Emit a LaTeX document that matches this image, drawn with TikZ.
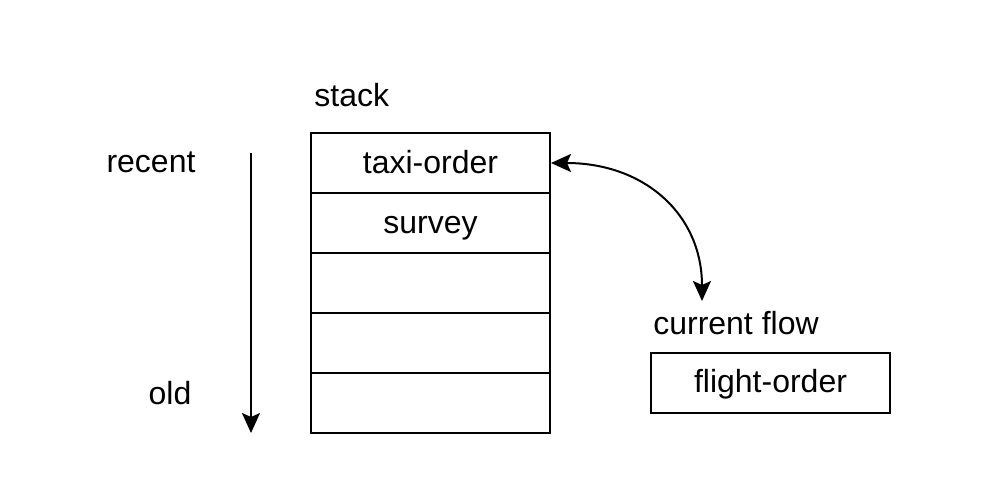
\documentclass[tikz,border=0pt]{standalone}
\usepackage{fontspec}
\setmainfont{Liberation Sans}
\usetikzlibrary{arrows.meta}
\begin{document}
\begin{tikzpicture}[x=0.5pt,y=-0.5pt,
  cell/.style={draw,line width=1pt,minimum width=119.5pt,minimum height=30pt,inner sep=0pt,text height=12.5pt,text depth=2.5pt,font=\fontsize{16}{19}\selectfont},
  lbl/.style={inner sep=0pt,font=\fontsize{16}{19}\selectfont},
  arr/.style={line width=1pt,-{Stealth[length=10pt,width=9pt,inset=2pt]}},
  darr/.style={line width=1pt,{Stealth[length=10pt,width=9pt,inset=2pt]}-{Stealth[length=10pt,width=9pt,inset=2pt]}}]
\useasboundingbox (0,0) rectangle (998,504);
\node[cell] (c1) at (430.5,163) {taxi-order};
\node[cell] (c2) at (430.5,223) {survey};
\node[cell] (c3) at (430.5,283) {};
\node[cell] (c4) at (430.5,343) {};
\node[cell] (c5) at (430.5,403) {};
\node[cell] (fo) at (770.5,382.5) {flight-order};
\node[lbl,anchor=west] (st) at (314,95) {stack};
\node[lbl] (rc) at (151,162) {recent};
\node[lbl] (od) at (170,393) {old};
\node[lbl] (cf) at (736,323) {current flow};
\coordinate (vt) at (251,153);
\coordinate (vb) at (251,433);
\draw[arr] (vt) -- (vb);
\coordinate (ce) at (702,301);
\draw[darr] (c1.east) .. controls (645,163) and (702,215) .. (ce);
\end{tikzpicture}
\end{document}
